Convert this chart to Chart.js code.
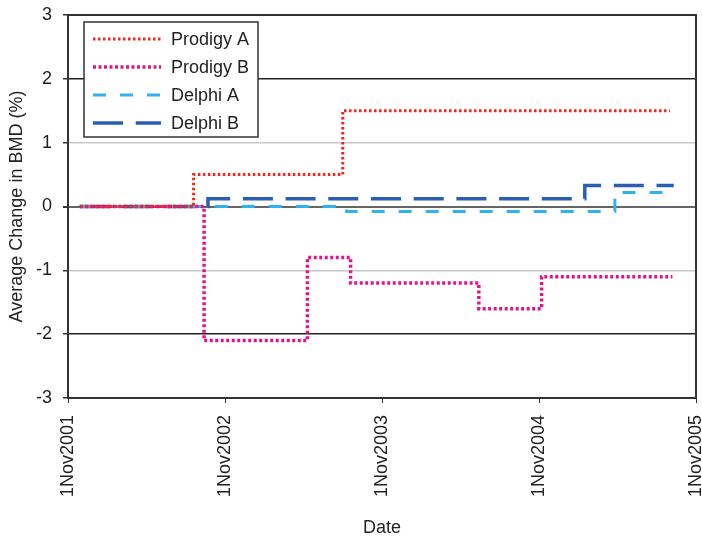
<!DOCTYPE html>
<html>
<head>
<meta charset="utf-8">
<script src="https://cdn.jsdelivr.net/npm/chart.js@4"></script>
<style>
  body { margin: 0; background: #fff; }
</style>
</head>
<body>
<canvas id="myChart" width="702" height="541"></canvas>
<script>
// months since 1 Nov 2001 where each step starts, and the value from there on
const tickLabels = ['1Nov2001', '1Nov2002', '1Nov2003', '1Nov2004', '1Nov2005'];
const yTicks = [-3, -2, -1, 0, 1, 2, 3];

const prodigyAMonths = [0.9, 9.6, 21.0, 46.0];
const prodigyAValues = [0, 0.5, 1.5, 1.5];

const prodigyBMonths = [0.9, 10.4, 18.3, 21.6, 31.4, 36.2, 46.2];
const prodigyBValues = [0, -2.1, -0.8, -1.2, -1.6, -1.1, -1.1];

const delphiAMonths = [0.9, 21.3, 41.8, 45.6];
const delphiAValues = [0, -0.08, 0.22, 0.22];

const delphiBMonths = [0.9, 10.7, 39.5, 46.3];
const delphiBValues = [0, 0.12, 0.33, 0.33];

function toPoints(months, values) {
  let pts = [];
  for (let i = 0; i < months.length; i++) {
    pts.push({ x: months[i], y: values[i] });
  }
  return pts;
}

const FONT = 'Liberation Sans, Arial, sans-serif';

// legend box inside the plot + frame round the plot area
const framePlugin = {
  id: 'frame',
  afterDraw(chart) {
    const ctx = chart.ctx;
    const a = chart.chartArea;
    ctx.save();
    ctx.strokeStyle = '#333';
    ctx.lineWidth = 2;
    ctx.strokeRect(a.left, a.top, a.right - a.left, a.bottom - a.top);

    // legend
    ctx.fillStyle = '#fff';
    ctx.fillRect(84, 22, 174, 115);
    ctx.strokeStyle = '#333';
    ctx.lineWidth = 1.5;
    ctx.strokeRect(84, 22, 174, 115);
    const rows = [39, 67, 95, 123];
    chart.data.datasets.forEach((ds, i) => {
      ctx.beginPath();
      ctx.strokeStyle = ds.borderColor;
      ctx.lineWidth = ds.borderWidth;
      ctx.setLineDash(ds.borderDash);
      ctx.moveTo(93, rows[i]);
      ctx.lineTo(161, rows[i]);
      ctx.stroke();
      ctx.setLineDash([]);
      ctx.fillStyle = '#222';
      ctx.font = '18px ' + FONT;
      ctx.textBaseline = 'middle';
      ctx.fillText(ds.label, 171, rows[i] + 1);
    });
    ctx.restore();
  }
};

const ctx = document.getElementById('myChart');
new Chart(ctx, {
  type: 'line',
  data: {
    datasets: [
      {
        label: 'Prodigy A',
        data: toPoints(prodigyAMonths, prodigyAValues),
        borderColor: '#f2261c',
        borderWidth: 3,
        borderDash: [2.5, 2.5],
        stepped: 'before'
      },
      {
        label: 'Prodigy B',
        data: toPoints(prodigyBMonths, prodigyBValues),
        borderColor: '#de158c',
        borderWidth: 3.5,
        borderDash: [3, 2.5],
        stepped: 'before'
      },
      {
        label: 'Delphi A',
        data: toPoints(delphiAMonths, delphiAValues),
        borderColor: '#2eb3ec',
        borderWidth: 3,
        borderDash: [13, 14],
        stepped: 'before'
      },
      {
        label: 'Delphi B',
        data: toPoints(delphiBMonths, delphiBValues),
        borderColor: '#2b5db5',
        borderWidth: 3.5,
        borderDash: [30, 12.7],
        stepped: 'before'
      }
    ]
  },
  options: {
    responsive: false,
    animation: false,
    layout: { padding: { top: 15, right: 6, bottom: 0, left: 0 } },
    elements: { point: { radius: 0 }, line: { tension: 0, fill: false } },
    plugins: {
      legend: { display: false },
      tooltip: { enabled: false }
    },
    scales: {
      x: {
        type: 'linear',
        min: 0,
        max: 48,
        afterFit: (scale) => {
          scale.height = 143;
          scale.paddingLeft = 0;
          scale.paddingRight = 0;
        },
        afterBuildTicks: (scale) => {
          scale.ticks = tickLabels.map((t, i) => ({ value: i * 12 }));
        },
        ticks: {
          minRotation: 90,
          maxRotation: 90,
          padding: 12,
          color: '#222',
          font: { family: FONT, size: 18 },
          callback: (v) => tickLabels[v / 12]
        },
        grid: {
          drawOnChartArea: false,
          tickLength: 5,
          tickColor: '#333'
        },
        border: { color: '#333', width: 2 },
        title: {
          display: true,
          text: 'Date',
          color: '#222',
          font: { family: FONT, size: 18 },
          padding: { top: 0, bottom: 2 }
        }
      },
      y: {
        min: -3,
        max: 3,
        afterFit: (scale) => {
          scale.width = 68;
          scale.paddingTop = 0;
          scale.paddingBottom = 0;
        },
        afterBuildTicks: (scale) => {
          scale.ticks = yTicks.map(v => ({ value: v }));
        },
        ticks: {
          padding: 11,
          color: '#222',
          font: { family: FONT, size: 18 }
        },
        grid: {
          tickLength: 5,
          tickColor: '#333',
          color: (c) => {
            const v = c.tick.value;
            if (v === 0) return '#666';
            if (Math.abs(v) === 1) return '#c8c8c8';
            return '#222';
          },
          lineWidth: (c) => (c.tick.value === 0 ? 2 : 1.5)
        },
        border: { color: '#333', width: 2 },
        title: {
          display: true,
          text: 'Average Change in BMD (%)',
          color: '#222',
          font: { family: FONT, size: 18 },
          padding: { top: 6, bottom: 0 }
        }
      }
    }
  },
  plugins: [framePlugin]
});
</script>
</body>
</html>
